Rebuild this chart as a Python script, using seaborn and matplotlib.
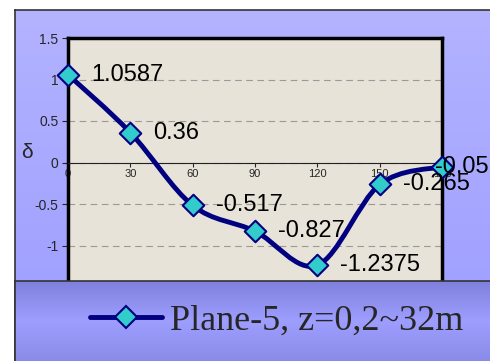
import numpy as np
import matplotlib
matplotlib.use('Agg')
import matplotlib.pyplot as plt
from matplotlib.path import Path
from matplotlib.patches import PathPatch
from matplotlib.lines import Line2D
from matplotlib.colors import LinearSegmentedColormap
from matplotlib.ticker import FuncFormatter
import seaborn as sns

# data
angles = [0, 30, 60, 90, 120, 150, 180]
delta = [1.0587, 0.36, -0.517, -0.827, -1.2375, -0.265, -0.05]
point_labels = ['1.0587', '0.36', '-0.517', '-0.827', '-1.2375', '-0.265', '-0.05']
series_name = 'Plane-5, z=0,2~32m'
xticks = [0, 30, 60, 90, 120, 150, 180]
yticks = [-1.5, -1, -0.5, 0, 0.5, 1, 1.5]

sns.set_style('white')
plt.rcParams['font.family'] = ['Liberation Sans', 'DejaVu Sans']
plt.rcParams['axes.unicode_minus'] = False

navy = '#000080'
cyan = '#33CCCC'
W, H = 490, 361
fig = plt.figure(figsize=(4.9, 3.61), dpi=100, facecolor='white')


def gradient_axes(rect, colors, z):
    a = fig.add_axes(rect, zorder=z)
    cmap = LinearSegmentedColormap.from_list('bg', colors)
    a.imshow(np.linspace(0, 1, 256).reshape(-1, 1), aspect='auto', cmap=cmap,
             extent=[0, 1, 0, 1], origin='upper')
    a.set_xticks([])
    a.set_yticks([])
    for s in ['right', 'bottom']:
        a.spines[s].set_visible(False)
    for s in ['left', 'top']:
        a.spines[s].set_color('#333333')
        a.spines[s].set_linewidth(1.2)
    return a


# chart area
gradient_axes([15 / W, 0, 1 - 15 / W, (H - 10) / H], ['#B3B3FF', '#9C9CFF'], 0)

# plot area
ax = fig.add_axes([68 / W, 74 / H, 374 / W, 249 / H], zorder=1)
ax.set_facecolor('#E8E3D8')
ax.set_xlim(0, 180)
ax.set_ylim(-1.5, 1.5)
ax.set_xticks(xticks)
ax.set_yticks(yticks)
ax.yaxis.set_major_formatter(FuncFormatter(lambda v, p: '%g' % v))
ax.yaxis.grid(True, linestyle=(0, (6, 4)), color='#9a9a9a', linewidth=0.8)
ax.xaxis.grid(False)
for s in ['left', 'top', 'right']:
    ax.spines[s].set_color('black')
    ax.spines[s].set_linewidth(2.5)
ax.spines['bottom'].set_position(('data', 0))
ax.spines['bottom'].set_color('#222222')
ax.spines['bottom'].set_linewidth(0.8)
ax.tick_params(axis='x', direction='out', length=3, width=0.8, labelsize=8, pad=2, bottom=True)
ax.tick_params(axis='y', direction='out', length=4, width=0.8, labelsize=10, pad=3, left=True)
ax.set_ylabel('δ', rotation=0, fontsize=15)
ax.yaxis.set_label_coords(-0.11, 0.5)

# smoothed line (Bezier through the points, like Excel's smoothed line)
px = np.array(angles, dtype=float)
py = np.array(delta, dtype=float)
verts = [(px[0], py[0])]
codes = [Path.MOVETO]
n = len(px)
for i in range(n - 1):
    i0 = max(i - 1, 0)
    i3 = min(i + 2, n - 1)
    c1 = (px[i] + (px[i + 1] - px[i0]) / 6, py[i] + (py[i + 1] - py[i0]) / 6)
    c2 = (px[i + 1] - (px[i3] - px[i]) / 6, py[i + 1] - (py[i3] - py[i]) / 6)
    verts += [c1, c2, (px[i + 1], py[i + 1])]
    codes += [Path.CURVE4] * 3
ax.add_patch(PathPatch(Path(verts, codes), facecolor='none', edgecolor=navy,
                       linewidth=3.5, capstyle='round', joinstyle='round', zorder=3))

sns.scatterplot(x=angles, y=delta, marker='D', s=120, color=cyan, edgecolor=navy,
                linewidth=1.5, zorder=4, clip_on=False, ax=ax)

for i, (x, y) in enumerate(zip(angles, delta)):
    dx = 23 if i < n - 1 else -7
    ax.annotate(point_labels[i], (x, y), xytext=(dx, 0), textcoords='offset pixels',
                ha='left', va='center', fontsize=17, color='black',
                annotation_clip=False, zorder=5)

# legend band
lax = gradient_axes([15 / W, 0, 1 - 15 / W, 80 / H],
                    ['#7F7FDD', '#9E9EFF', '#8A8AE8'], 2)
handle = Line2D([], [], color=navy, linewidth=3.5, marker='D', markersize=11,
                markerfacecolor=cyan, markeredgecolor=navy, markeredgewidth=1.5)
lax.legend(handles=[handle], labels=[series_name], loc='center left',
           bbox_to_anchor=(0.09, 0.5), frameon=False, handlelength=2.0,
           handletextpad=0.2, prop={'family': 'Liberation Serif', 'size': 26})

fig.savefig('out.png', dpi=100, facecolor='white')
